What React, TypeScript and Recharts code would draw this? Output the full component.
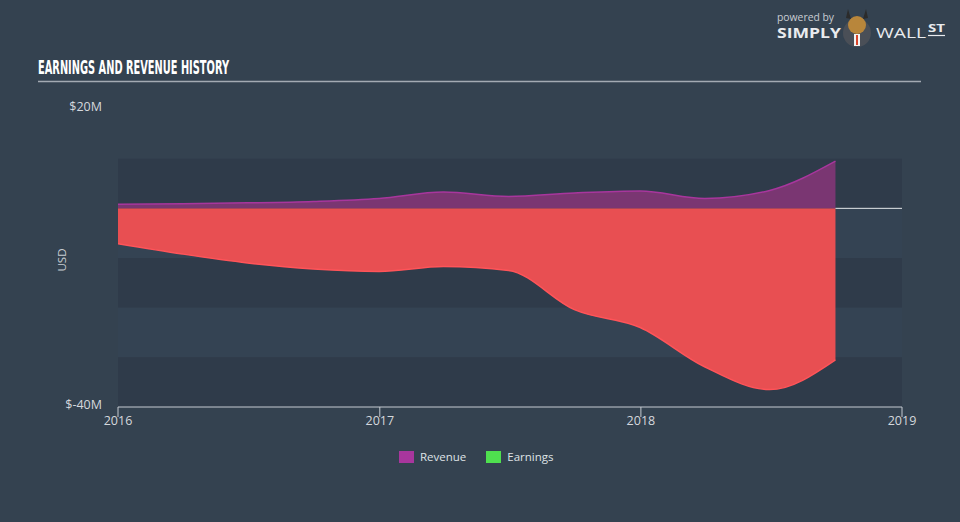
import React from 'react';
import { AreaChart, Area, XAxis, YAxis, ReferenceArea, ReferenceLine } from 'recharts';

// quarter end dates and values in $M
const quarterEnds = [
  '2015-12-31', '2016-03-31', '2016-06-30', '2016-09-30',
  '2016-12-31', '2017-03-31', '2017-06-30', '2017-09-30',
  '2017-12-31', '2018-03-31', '2018-06-30', '2018-09-30',
];
const revenue = [0.8, 0.9, 1.1, 1.4, 2.0, 3.3, 2.4, 3.1, 3.5, 2.0, 3.6, 9.5];
const earnings = [-7.1, -9.2, -11.0, -12.2, -12.7, -11.7, -12.5, -20.4, -24.0, -31.9, -36.5, -30.5];

const yearTicks = ['2016-01-01', '2017-01-01', '2018-01-01', '2019-01-01'];
const yTicks = [20, -40];
const bandEdges = [10, 0, -10, -20, -30, -40];

const BG = '#344250';
const BAND_DARK = '#2f3b4a';
const BAND_LIGHT = '#344353';
const AXIS = '#c5cad1';
const FONT = '"Open Sans", "Noto Sans", sans-serif';

const ts = (d: string) => new Date(d + 'T00:00:00Z').getTime();

const data = quarterEnds.map((d, i) => ({
  t: ts(d),
  revenue: revenue[i],
  earnings: earnings[i],
}));

function XTick(props: any) {
  const { x, y, payload } = props;
  return (
    <text x={x} y={y} dy={8} textAnchor="middle" fill="#d4d8dd" fontSize={12.5} fontFamily={FONT}>
      {new Date(payload.value).getUTCFullYear()}
    </text>
  );
}

function YTick(props: any) {
  const { x, y, payload } = props;
  const v = payload.value;
  return (
    <text x={x} y={y} dy={2} textAnchor="end" fill="#d4d8dd" fontSize={12.5} fontFamily={FONT}>
      {`$${v}M`}
    </text>
  );
}

export default function App() {
  const last = data[data.length - 1].t;
  return (
    <div style={{ position: 'absolute', left: 0, top: 0, width: 960, height: 522, background: BG, overflow: 'hidden' }}>
      <AreaChart
        width={960}
        height={522}
        data={data}
        margin={{ top: 109, right: 58, bottom: 85, left: 58 }}
      >
        {bandEdges.slice(0, -1).map((top, i) => (
          <ReferenceArea
            key={top}
            y1={bandEdges[i + 1]}
            y2={top}
            fill={i % 2 === 0 ? BAND_DARK : BAND_LIGHT}
            fillOpacity={1}
            stroke="none"
            ifOverflow="visible"
          />
        ))}
        <XAxis
          dataKey="t"
          type="number"
          scale="linear"
          domain={[ts(yearTicks[0]), ts(yearTicks[yearTicks.length - 1])]}
          ticks={yearTicks.map(ts)}
          tick={<XTick />}
          height={30}
          stroke={AXIS}
          tickSize={10}
          tickMargin={0}
          allowDataOverflow
        />
        <YAxis
          type="number"
          domain={[-40, 20]}
          ticks={yTicks}
          tick={<YTick />}
          width={60}
          axisLine={false}
          tickLine={false}
          tickSize={0}
          tickMargin={16}
          allowDataOverflow
        />
        <Area
          type="monotone"
          dataKey="earnings"
          baseValue={0}
          stroke="#ff5459"
          strokeWidth={1.5}
          fill="#e84f52"
          fillOpacity={1}
          isAnimationActive={false}
          dot={false}
          activeDot={false}
        />
        <Area
          type="monotone"
          dataKey="revenue"
          baseValue={0}
          stroke="#a8369d"
          strokeWidth={1.5}
          fill="#7a3672"
          fillOpacity={1}
          isAnimationActive={false}
          dot={false}
          activeDot={false}
        />
        <ReferenceLine
          segment={[{ x: last, y: 0 }, { x: ts(yearTicks[yearTicks.length - 1]), y: 0 }]}
          stroke="#e6e8eb"
          strokeWidth={1}
        />
      </AreaChart>

      <svg width={960} height={522} style={{ position: 'absolute', left: 0, top: 0, pointerEvents: 'none' }}>
        <text
          x={38}
          y={74}
          fill="#ffffff"
          fontSize={19}
          fontWeight="bold"
          fontFamily='"DejaVu Sans Condensed", "Liberation Sans Narrow", sans-serif'
          textLength={191}
          lengthAdjust="spacingAndGlyphs"
        >
          EARNINGS AND REVENUE HISTORY
        </text>
        <line x1={38} y1={81.5} x2={921} y2={81.5} stroke="#a3aab3" strokeWidth={1.5} />

        <text x={63} y={260} transform="rotate(-90 63 260)" textAnchor="middle" dominantBaseline="middle"
          fill="#c9ced4" fontSize={11.5} fontFamily={FONT}>USD</text>

        {/* logo */}
        <text x={777} y={21} fill="#c9ced4" fontSize={10.5} fontFamily={FONT}
          textLength={57} lengthAdjust="spacingAndGlyphs">powered by</text>
        <text x={777} y={37.5} fill="#e9ebee" fontSize={14} fontWeight="bold" fontFamily={FONT}
          textLength={64} lengthAdjust="spacingAndGlyphs">SIMPLY</text>
        <circle cx={857} cy={33} r={14} fill="#4a4f57" />
        <circle cx={857} cy={25} r={9} fill="#b8863b" />
        <rect x={854} y={34} width={6} height={12} fill="#f2f2f2" />
        <path d="M856 35 L858 35 L858 45 L856 45 Z" fill="#d9442a" />
        <path d="M846 18 L848 9 L851 19 Z M868 18 L866 9 L863 19 Z" fill="#2b2b2b" />
        <text x={876} y={37.5} fill="#e9ebee" fontSize={14} fontFamily={FONT}
          textLength={50} lengthAdjust="spacingAndGlyphs">WALL</text>
        <text x={928} y={32} fill="#e9ebee" fontSize={10} fontWeight="bold" fontFamily={FONT}
          textLength={17} lengthAdjust="spacingAndGlyphs">ST</text>
        <line x1={928} y1={35.5} x2={945} y2={35.5} stroke="#e9ebee" strokeWidth={1.2} />
      </svg>

      <div style={{ position: 'absolute', top: 449, left: 399, display: 'flex', alignItems: 'center', fontFamily: FONT, fontSize: 11.5, color: '#dfe2e6' }}>
        <span style={{ width: 15, height: 12, background: '#a8369d', display: 'inline-block', marginRight: 6 }} />
        <span style={{ marginRight: 20 }}>Revenue</span>
        <span style={{ width: 15, height: 12, background: '#4fe04f', display: 'inline-block', marginRight: 6 }} />
        <span>Earnings</span>
      </div>
    </div>
  );
}
